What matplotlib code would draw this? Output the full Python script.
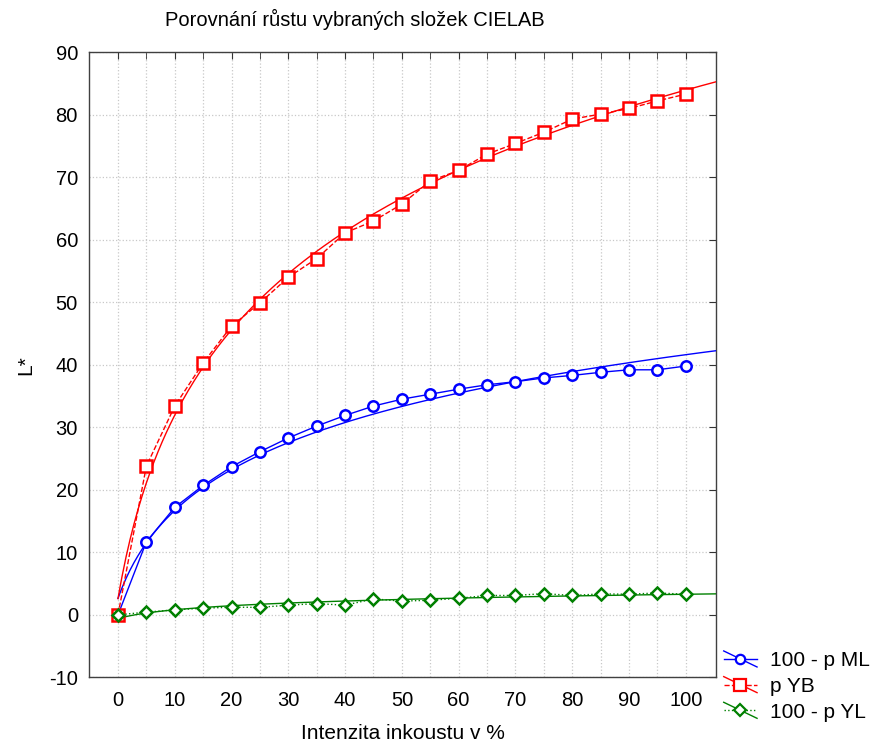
import numpy as np
import matplotlib
matplotlib.use("Agg")
import matplotlib.pyplot as plt
from matplotlib.lines import Line2D
from matplotlib.legend_handler import HandlerBase

plt.rcParams['font.family'] = ['Liberation Sans', 'DejaVu Sans']

# Data
intenzita = [0, 5, 10, 15, 20, 25, 30, 35, 40, 45, 50,
             55, 60, 65, 70, 75, 80, 85, 90, 95, 100]
p_ml = [0.0, 11.7, 17.2, 20.7, 23.7, 26.1, 28.3, 30.2, 31.9, 33.4, 34.5,
        35.3, 36.1, 36.8, 37.3, 37.9, 38.3, 38.8, 39.2, 39.2, 39.8]
p_yb = [0.0, 23.8, 33.4, 40.3, 46.2, 49.9, 54.0, 57.0, 61.1, 63.0, 65.7,
        69.4, 71.1, 73.7, 75.4, 77.2, 79.3, 80.1, 81.0, 82.2, 83.3]
p_yl = [0.0, 0.43, 0.8, 1.07, 1.22, 1.2, 1.55, 1.8, 1.55, 2.55, 2.2,
        2.34, 2.65, 3.1, 3.1, 3.4, 3.1, 3.35, 3.3, 3.5, 3.3]

nazvy = ['100 - p ML', 'p YB', '100 - p YL']
barvy = ['#0000ff', '#ff0000', '#008000']
znacky = ['o', 's', 'D']
styly = ['-', '--', ':']
velikosti = [7.5, 9, 6.5]

XMIN, XMAX = -5.1, 105.3


class FitHandler(HandlerBase):
    # datova cara se znackou + sikma prolozena krivka (jako v legende Statistiky)
    def create_artists(self, legend, orig_handle, xdescent, ydescent,
                       width, height, fontsize, trans):
        data_line, fit_line = orig_handle
        x0, x1 = -xdescent, width - xdescent
        yc = height / 2 - ydescent
        l1 = Line2D([x0, x1], [yc, yc], color=data_line.get_color(),
                    linestyle=data_line.get_linestyle(), lw=data_line.get_linewidth())
        l2 = Line2D([x0, x1], [yc + height * 0.55, yc - height * 0.55],
                    color=fit_line.get_color(), lw=fit_line.get_linewidth())
        m = Line2D([(x0 + x1) / 2], [yc], marker=data_line.get_marker(),
                   markersize=data_line.get_markersize() * 0.9,
                   markerfacecolor='white', markeredgecolor=data_line.get_color(),
                   markeredgewidth=1.6, linestyle='none')
        for a in (l1, l2, m):
            a.set_transform(trans)
        return [l1, l2, m]


fig = plt.figure(figsize=(8.73, 7.46), dpi=100)
ax = fig.add_axes([0.102, 0.092, 0.718, 0.838])

x = np.array(intenzita, dtype=float)
xf = np.linspace(0, XMAX, 300)
handles = []
for y, nazev, c, mk, ls, ms in zip([p_ml, p_yb, p_yl], nazvy, barvy, znacky, styly, velikosti):
    y = np.array(y)
    # logaritmicky trend prolozeny daty
    coef = np.polyfit(np.log(x + 5), y, 1)
    fit, = ax.plot(xf, np.polyval(coef, np.log(xf + 5)), color=c, lw=1.0, zorder=3)
    data, = ax.plot(x, y, color=c, linestyle=ls, lw=1.0, marker=mk, markersize=ms,
                    markerfacecolor='white', markeredgecolor=c, markeredgewidth=1.8,
                    zorder=4)
    handles.append((data, fit))

ax.set_xlim(XMIN, XMAX)
ax.set_ylim(-10, 90)
ax.set_xticks(np.arange(0, 101, 10))
ax.set_xticks(np.arange(0, 101, 5), minor=True)
ax.set_yticks(np.arange(-10, 91, 10))
ax.set_yticklabels([str(v) for v in range(-10, 91, 10)])
ax.grid(True, which='both', axis='x', color='#c8c8c8', linestyle=':', lw=0.9)
ax.grid(True, which='major', axis='y', color='#c8c8c8', linestyle=':', lw=0.9)
ax.set_axisbelow(True)
ax.tick_params(which='both', direction='in', bottom=False, left=False,
               top=True, right=True, labelsize=14.5, length=5, color='#333333')
ax.tick_params(axis='x', pad=10)
ax.tick_params(axis='y', pad=8)
ax.tick_params(axis='y', which='minor', right=False)
for s in ax.spines.values():
    s.set_color('#404040')
    s.set_linewidth(1.0)

ax.set_xlabel('Intenzita inkoustu v %', fontsize=15, labelpad=10)
ax.set_ylabel('L*', fontsize=15, labelpad=10)
fig.text(0.407, 0.988, 'Porovnání růstu vybraných složek CIELAB',
         ha='center', va='top', fontsize=14.5)

ax.legend(handles, nazvy, handler_map={tuple: FitHandler()},
          loc='upper left', bbox_to_anchor=(0.829, 0.127), bbox_transform=fig.transFigure,
          frameon=False, fontsize=15, handlelength=1.6, handletextpad=0.6,
          labelspacing=0.32, borderaxespad=0, borderpad=0)

fig.savefig('out.png', dpi=100)
